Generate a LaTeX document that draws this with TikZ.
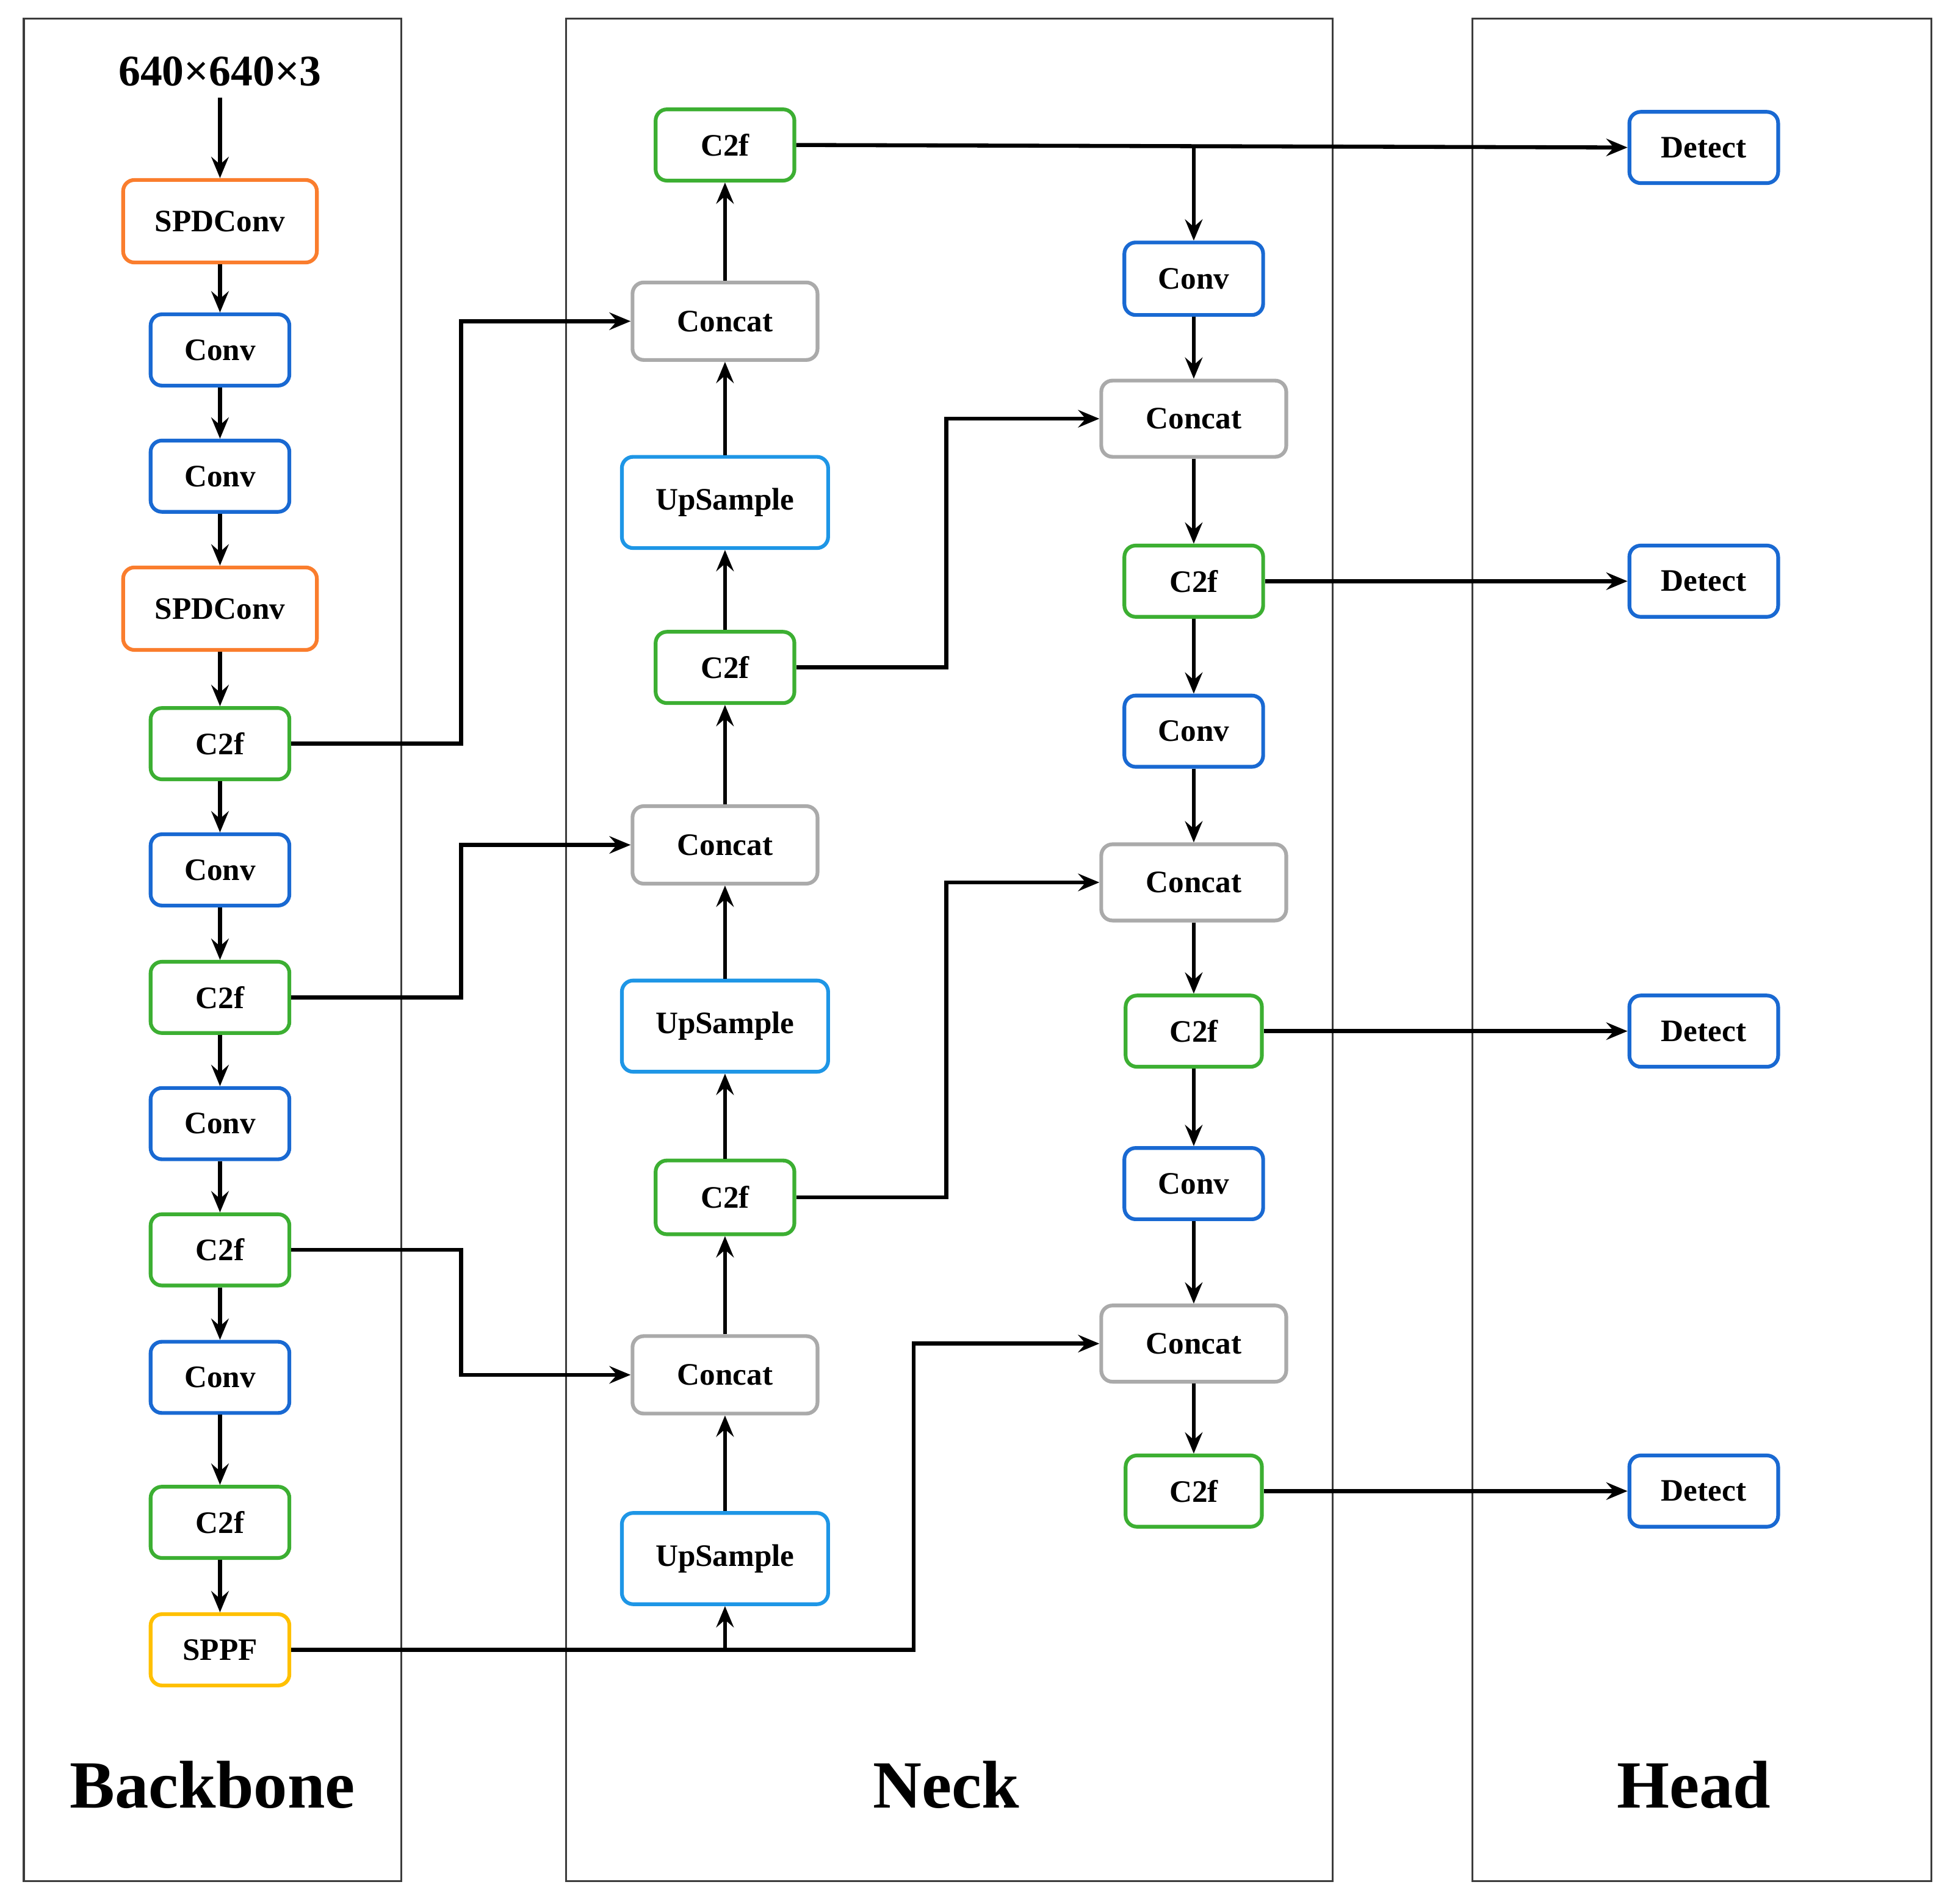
\documentclass[tikz,border=0pt]{standalone}
\usepackage{fontspec}
\setmainfont{Liberation Serif}
\usetikzlibrary{arrows.meta,calc}
\definecolor{corange}{RGB}{250,125,45}
\definecolor{cblue}{RGB}{25,105,210}
\definecolor{cublue}{RGB}{30,150,230}
\definecolor{cgreen}{RGB}{60,175,50}
\definecolor{cgray}{RGB}{170,170,170}
\definecolor{cyellow}{RGB}{255,192,0}
\definecolor{cpanel}{RGB}{60,60,60}
\begin{document}
\begin{tikzpicture}[x=1pt,y=-1pt,
  blk/.style={draw,rounded corners=9pt,line width=3pt,fill=white,inner sep=0pt,
    font=\fontsize{25}{28}\selectfont\bfseries,minimum height=57pt,minimum width=111pt},
  spd/.style={blk,draw=corange,minimum width=155pt,minimum height=66pt},
  conv/.style={blk,draw=cblue},
  c2f/.style={blk,draw=cgreen},
  cat/.style={blk,draw=cgray,minimum width=148pt,minimum height=62pt},
  ups/.style={blk,draw=cublue,minimum width=165pt,minimum height=73pt},
  sppf/.style={blk,draw=cyellow},
  det/.style={blk,draw=cblue,minimum width=119pt},
  panel/.style={draw=cpanel,line width=1.6pt},
  title/.style={font=\fontsize{54}{60}\selectfont\bfseries},
  arr/.style={-{Stealth[length=17pt,width=14pt,inset=6pt]},line width=3.2pt},
  ln/.style={line width=3.2pt}
]
\fill[white] (0,0) rectangle (1560,1523);
\useasboundingbox (0,0) rectangle (1560,1523);
% panels
\draw[panel] (19,15) rectangle (321,1505);
\draw[panel] (453,15) rectangle (1066,1505);
\draw[panel] (1178,15) rectangle (1545,1505);
\node[title] (tb) at (170,1428) {Backbone};
\node[title] (tn) at (757,1428) {Neck};
\node[title] (th) at (1355,1428) {Head};

% backbone
\node[font=\fontsize{35}{40}\selectfont\bfseries] (in) at (176,57) {640×640×3};
\node[spd] (sp1) at (176,177) {SPDConv};
\node[conv] (cv1) at (176,280) {Conv};
\node[conv] (cv2) at (176,381) {Conv};
\node[spd] (sp2) at (176,487) {SPDConv};
\node[c2f] (c1) at (176,595) {C2f};
\node[conv] (cv3) at (176,696) {Conv};
\node[c2f] (c2) at (176,798) {C2f};
\node[conv] (cv4) at (176,899) {Conv};
\node[c2f] (c3) at (176,1000) {C2f};
\node[conv] (cv5) at (176,1102) {Conv};
\node[c2f] (c4) at (176,1218) {C2f};
\node[sppf] (sppf) at (176,1320) {SPPF};

% neck left
\node[c2f] (nc1) at (580,116) {C2f};
\node[cat] (ncat1) at (580,257) {Concat};
\node[ups] (up1) at (580,402) {UpSample};
\node[c2f] (nc2) at (580,534) {C2f};
\node[cat] (ncat2) at (580,676) {Concat};
\node[ups] (up2) at (580,821) {UpSample};
\node[c2f,minimum height=59pt] (nc3) at (580,958) {C2f};
\node[cat] (ncat3) at (580,1100) {Concat};
\node[ups] (up3) at (580,1247) {UpSample};

% neck right
\node[conv,minimum height=58pt] (rcv1) at (955,223) {Conv};
\node[cat,minimum height=61pt] (rcat1) at (955,335) {Concat};
\node[c2f] (rc1) at (955,465) {C2f};
\node[conv] (rcv2) at (955,585) {Conv};
\node[cat,minimum height=61pt] (rcat2) at (955,706) {Concat};
\node[c2f,minimum width=109pt] (rc2) at (955,825) {C2f};
\node[conv] (rcv3) at (955,947) {Conv};
\node[cat,minimum height=61pt] (rcat3) at (955,1075) {Concat};
\node[c2f,minimum width=109pt] (rc3) at (955,1193) {C2f};

% head
\node[det] (d1) at (1363,118) {Detect};
\node[det] (d2) at (1363,465) {Detect};
\node[det] (d3) at (1363,825) {Detect};
\node[det] (d4) at (1363,1193) {Detect};

% backbone chain
\draw[arr] (in.south) ++(0,6) -- (sp1.north);
\draw[arr] (sp1) -- (cv1);
\draw[arr] (cv1) -- (cv2);
\draw[arr] (cv2) -- (sp2);
\draw[arr] (sp2) -- (c1);
\draw[arr] (c1) -- (cv3);
\draw[arr] (cv3) -- (c2);
\draw[arr] (c2) -- (cv4);
\draw[arr] (cv4) -- (c3);
\draw[arr] (c3) -- (cv5);
\draw[arr] (cv5) -- (c4);
\draw[arr] (c4) -- (sppf);

% neck left chain (upwards)
\coordinate (js) at (580,1320);
\draw[arr] (js) -- (up3.south);
\draw[arr] (up3) -- (ncat3);
\draw[arr] (ncat3) -- (nc3);
\draw[arr] (nc3) -- (up2);
\draw[arr] (up2) -- (ncat2);
\draw[arr] (ncat2) -- (nc2);
\draw[arr] (nc2) -- (up1);
\draw[arr] (up1) -- (ncat1);
\draw[arr] (ncat1) -- (nc1);

% neck right chain (downwards)
\coordinate (jt) at (955,117);
\draw[arr] (jt) -- (rcv1.north);
\draw[arr] (rcv1) -- (rcat1);
\draw[arr] (rcat1) -- (rc1);
\draw[arr] (rc1) -- (rcv2);
\draw[arr] (rcv2) -- (rcat2);
\draw[arr] (rcat2) -- (rc2);
\draw[arr] (rc2) -- (rcv3);
\draw[arr] (rcv3) -- (rcat3);
\draw[arr] (rcat3) -- (rc3);

% lateral connections
\coordinate (b1) at (369,595);
\coordinate (b2) at (369,798);
\coordinate (b3) at (369,1000);
\draw[arr] (c1.east) -- (b1) |- (ncat1.west);
\draw[arr] (c2.east) -- (b2) |- (ncat2.west);
\draw[arr] (c3.east) -- (b3) |- (ncat3.west);
\coordinate (s1) at (731,1320);
\draw[arr] (sppf.east) -- (s1) |- (rcat3.west);
\coordinate (m1) at (757,534);
\coordinate (m2) at (757,958);
\draw[arr] (nc2.east) -- (m1) |- (rcat1.west);
\draw[arr] (nc3.east) -- (m2) |- (rcat2.west);

% to head
\draw[arr] (nc1.east) -- (d1.west);
\draw[arr] (rc1.east) -- (d2.west);
\draw[arr] (rc2.east) -- (d3.west);
\draw[arr] (rc3.east) -- (d4.west);
\end{tikzpicture}
\end{document}
